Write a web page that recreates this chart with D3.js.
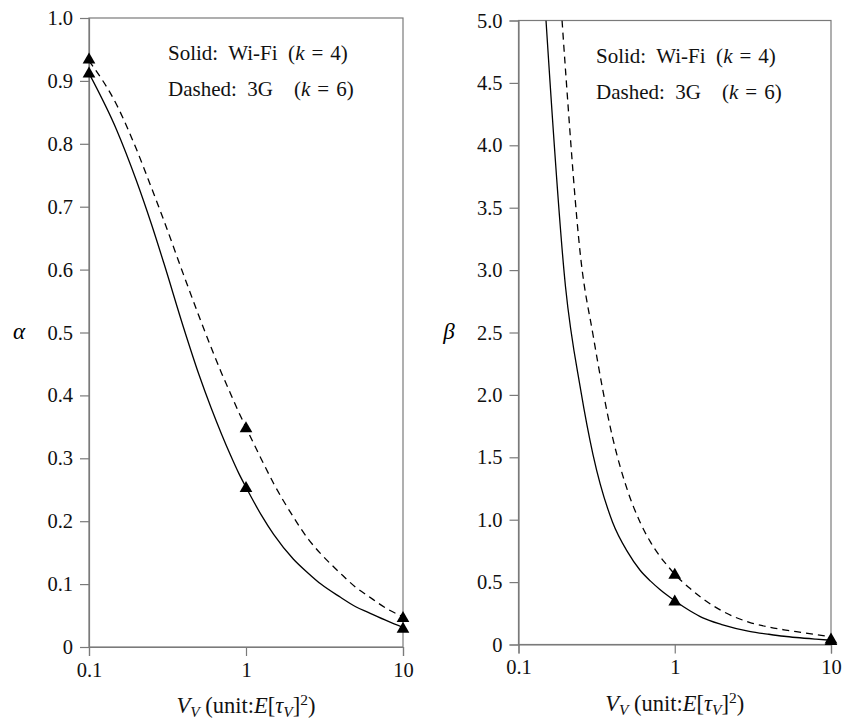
<!DOCTYPE html>
<html>
<head>
<meta charset="utf-8">
<script src="https://cdn.jsdelivr.net/npm/d3@7"></script>
<style>
  body { margin: 0; background: #fff; }
  svg { display: block; font-family: "Liberation Serif", "DejaVu Serif", serif; }
  text { white-space: pre; }
</style>
</head>
<body>
<svg width="843" height="725"></svg>
<script>
// V_V sample points (unit: E[tau_V]^2)
const vv = [0.1, 0.15, 0.2, 0.25, 0.3, 0.4, 0.5, 0.6, 0.7, 0.8, 0.9, 1, 1.25, 1.5, 2, 2.5, 3, 4, 5, 6, 8, 10];

// alpha curves
const alphaWifi = [0.912, 0.822, 0.742, 0.672, 0.610, 0.508, 0.434, 0.380, 0.338, 0.304, 0.276, 0.254, 0.210, 0.179, 0.140, 0.117, 0.100, 0.079, 0.064, 0.055, 0.041, 0.031];
const alpha3G   = [0.932, 0.862, 0.792, 0.730, 0.678, 0.592, 0.527, 0.476, 0.435, 0.402, 0.373, 0.349, 0.299, 0.260, 0.207, 0.171, 0.148, 0.117, 0.095, 0.081, 0.060, 0.048];

// beta curves (values above 5 are cut by the frame)
const betaX    = [0.15, 0.2, 0.25, 0.3, 0.4, 0.5, 0.6, 0.7, 0.8, 0.9, 1, 1.25, 1.5, 2, 3, 4, 5, 6, 8, 10];
const betaWifi = [5.0, 2.865, 2.04, 1.52, 0.98, 0.74, 0.595, 0.508, 0.443, 0.392, 0.35, 0.27, 0.215, 0.16, 0.106, 0.082, 0.066, 0.056, 0.043, 0.034];
const beta3GX  = [0.19, 0.2, 0.25, 0.3, 0.4, 0.5, 0.6, 0.7, 0.8, 0.9, 1, 1.25, 1.5, 2, 3, 4, 5, 6, 8, 10];
const beta3G   = [5.0, 4.6, 3.1, 2.48, 1.66, 1.23, 0.98, 0.82, 0.71, 0.63, 0.563, 0.45, 0.37, 0.27, 0.178, 0.14, 0.118, 0.103, 0.079, 0.061];

// triangle markers at V_V = 0.1, 1, 10
const markX = [0.1, 1, 10];
const alphaMarkWifi = [0.913, 0.254, 0.030];
const alphaMark3G   = [0.935, 0.349, 0.047];
const betaMarkWifi  = [null, 0.35, 0.033];
const betaMark3G    = [null, 0.565, 0.045];

// ticks
const xTicks = [0.1, 1, 10];
const alphaTicks = [0, 0.1, 0.2, 0.3, 0.4, 0.5, 0.6, 0.7, 0.8, 0.9, 1.0];
const betaTicks = [0, 0.5, 1.0, 1.5, 2.0, 2.5, 3.0, 3.5, 4.0, 4.5, 5.0];

const svg = d3.select("svg");

function drawPanel(p) {
    const x = d3.scaleLog().domain([0.1, 10]).range([p.left, p.right]);
    const y = d3.scaleLinear().domain([0, p.ymax]).range([p.bottom, p.top]);
    const g = svg.append("g");

    // clip for the curves
    g.append("clipPath").attr("id", p.id + "-clip")
        .append("rect")
        .attr("x", p.left).attr("y", p.top)
        .attr("width", p.right - p.left).attr("height", p.bottom - p.top);

    // frame
    g.append("rect")
        .attr("x", p.left).attr("y", p.top)
        .attr("width", p.right - p.left).attr("height", p.bottom - p.top)
        .attr("fill", "none").attr("stroke", "#7a7a7a").attr("stroke-width", 1.2);

    // y axis
    const yAxis = g.append("g")
        .attr("transform", `translate(${p.left},0)`)
        .call(d3.axisLeft(y).tickValues(p.yTicks).tickSize(9).tickPadding(7)
            .tickFormat(d => d === 0 ? "0" : d3.format(".1f")(d)));
    // x axis
    const xAxis = g.append("g")
        .attr("transform", `translate(0,${p.bottom})`)
        .call(d3.axisBottom(x).tickValues(xTicks).tickSize(9).tickPadding(6)
            .tickFormat(d => d < 1 ? "0.1" : String(d)));
    [xAxis, yAxis].forEach(a => {
        a.select(".domain").attr("stroke", "#7a7a7a").attr("stroke-width", 1.2);
        a.selectAll(".tick line").attr("stroke", "#7a7a7a").attr("stroke-width", 1.2);
        a.selectAll(".tick text").attr("fill", "#111")
            .style("font-family", "Liberation Serif").style("font-size", "20.5px");
    });

    // curves
    const line = d3.line()
        .x(d => x(d[0]))
        .y(d => y(d[1]))
        .curve(d3.curveMonotoneX);
    const curves = g.append("g").attr("clip-path", `url(#${p.id}-clip)`);
    curves.append("path")
        .datum(d3.zip(p.solidX, p.solid))
        .attr("d", line)
        .attr("fill", "none").attr("stroke", "#000").attr("stroke-width", 1.3);
    curves.append("path")
        .datum(d3.zip(p.dashedX, p.dashed))
        .attr("d", line)
        .attr("fill", "none").attr("stroke", "#000").attr("stroke-width", 1.3)
        .attr("stroke-dasharray", "7,5");

    // triangles
    const tri = d3.symbol().type(d3.symbolTriangle).size(70);
    const marks = d3.zip(markX, p.markSolid).concat(d3.zip(markX, p.markDashed))
        .filter(d => d[1] != null);
    g.append("g").selectAll("path")
        .data(marks)
        .enter()
        .append("path")
        .attr("d", tri)
        .attr("transform", d => `translate(${x(d[0])},${y(d[1]) + 1})`)
        .attr("fill", "#000");

    // legend text
    const leg = g.append("g").style("font-size", "21px").attr("fill", "#111");
    const l1 = leg.append("text").attr("x", p.left + p.legDx).attr("y", p.top + 42);
    l1.append("tspan").text("Solid:  Wi-Fi  (");
    l1.append("tspan").attr("font-style", "italic").text("k");
    l1.append("tspan").text("\u2004=\u20044)");
    const l2 = leg.append("text").attr("x", p.left + p.legDx).attr("y", p.top + 78);
    l2.append("tspan").text("Dashed:  3G    (");
    l2.append("tspan").attr("font-style", "italic").text("k");
    l2.append("tspan").text("\u2004=\u20046)");

    // y label
    g.append("text")
        .attr("x", p.yLabelX).attr("y", 339)
        .attr("text-anchor", "middle")
        .style("font-size", "23px").attr("font-style", "italic")
        .text(p.yLabel);

    // x label
    const xl = g.append("text")
        .attr("x", (p.left + p.right) / 2).attr("y", p.bottom + 66)
        .attr("text-anchor", "middle")
        .style("font-size", "22.5px").attr("fill", "#111");
    xl.append("tspan").attr("font-style", "italic").text("V");
    xl.append("tspan").attr("font-style", "italic").attr("dy", 4).style("font-size", "15.5px").text("V");
    xl.append("tspan").attr("dy", -4).text(" (unit:");
    xl.append("tspan").attr("font-style", "italic").text("E");
    xl.append("tspan").text("[");
    xl.append("tspan").attr("font-style", "italic").text("τ");
    xl.append("tspan").attr("font-style", "italic").attr("dy", 4).style("font-size", "15.5px").text("V");
    xl.append("tspan").attr("dy", -4).text("]");
    xl.append("tspan").attr("dy", -8).style("font-size", "15.5px").text("2");
    xl.append("tspan").attr("dy", 8).text(")");
}

drawPanel({
    id: "alpha", left: 89, right: 403, top: 18, bottom: 647, ymax: 1.0,
    yTicks: alphaTicks, yLabel: "α", yLabelX: 19, legDx: 79,
    solidX: vv, solid: alphaWifi, dashedX: vv, dashed: alpha3G,
    markSolid: alphaMarkWifi, markDashed: alphaMark3G
});

drawPanel({
    id: "beta", left: 518.5, right: 831, top: 20.5, bottom: 644.5, ymax: 5.0,
    yTicks: betaTicks, yLabel: "β", yLabelX: 449, legDx: 77.5,
    solidX: betaX, solid: betaWifi, dashedX: beta3GX, dashed: beta3G,
    markSolid: betaMarkWifi, markDashed: betaMark3G
});
</script>
</body>
</html>
